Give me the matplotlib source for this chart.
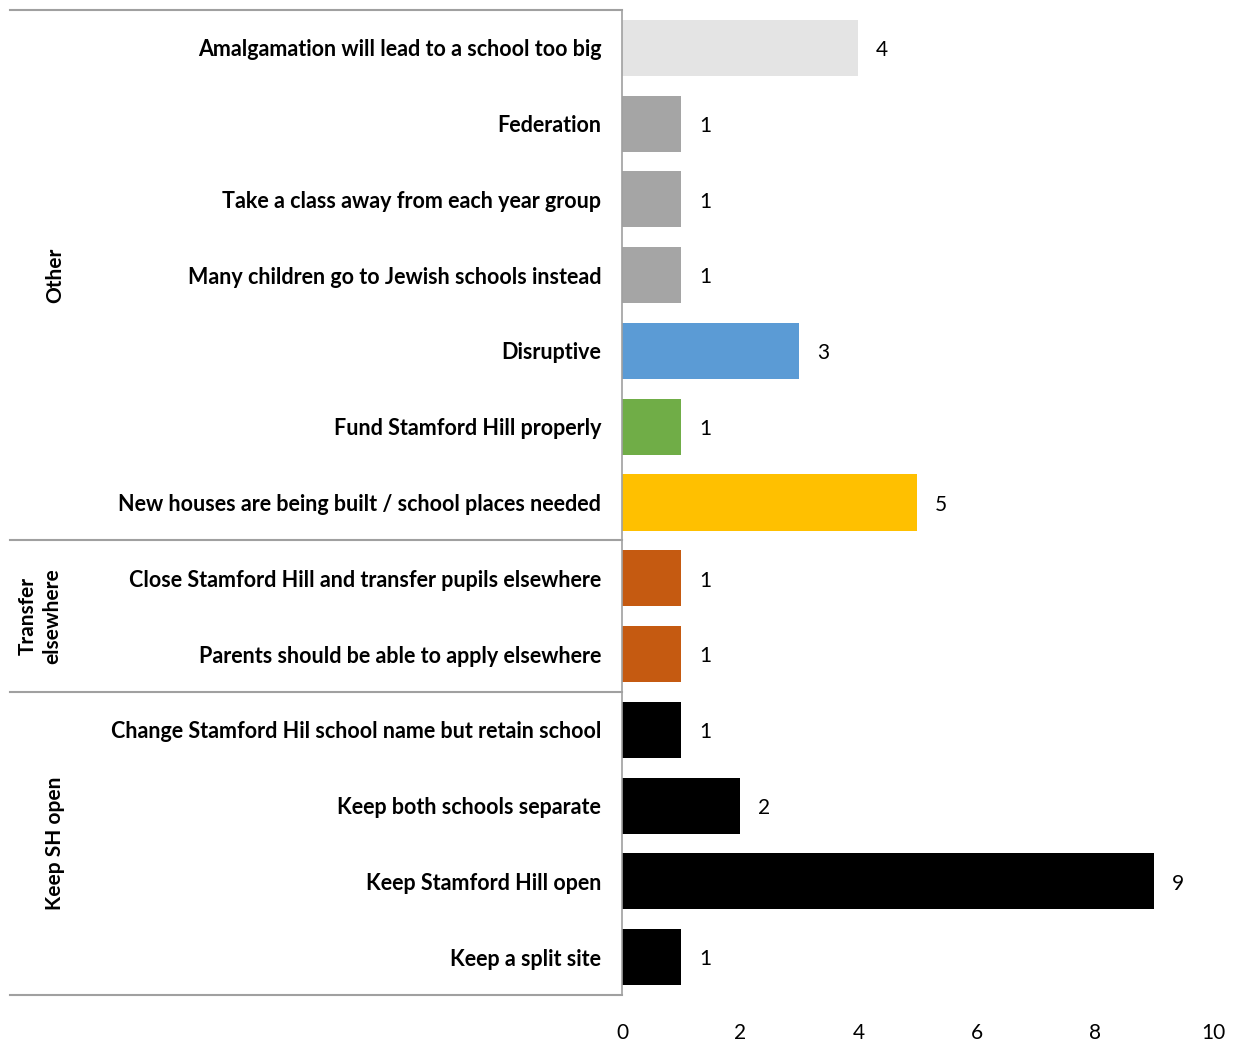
import matplotlib
matplotlib.use('Agg')
import matplotlib.pyplot as plt
from matplotlib import transforms

plt.rcParams['font.family'] = ['Lato', 'DejaVu Sans']

# data (top to bottom)
categories = [
    'Amalgamation will lead to a school too big',
    'Federation',
    'Take a class away from each year group',
    'Many children go to Jewish schools instead',
    'Disruptive',
    'Fund Stamford Hill properly',
    'New houses are being built / school places needed',
    'Close Stamford Hill and transfer pupils elsewhere',
    'Parents should be able to apply elsewhere',
    'Change Stamford Hil school name but retain school',
    'Keep both schools separate',
    'Keep Stamford Hill open',
    'Keep a split site',
]
values = [4, 1, 1, 1, 3, 1, 5, 1, 1, 1, 2, 9, 1]
bar_colors = ['#E4E4E4', '#A5A5A5', '#A5A5A5', '#A5A5A5', '#5B9BD5', '#70AD47',
              '#FFC000', '#C55A11', '#C55A11', '#000000', '#000000', '#000000', '#000000']
groups = ['Other', 'Transfer\nelsewhere', 'Keep SH open']
group_bounds = [(0, 6), (7, 8), (9, 12)]

fig = plt.figure(figsize=(12.38, 10.44), dpi=100)
ax = fig.add_axes([0.5024, 0.0469, 0.4774, 0.9435])

ypos = list(range(len(categories)))
ax.barh(ypos, values, height=0.74, color=bar_colors)
for y, v in zip(ypos, values):
    ax.text(v + 0.3, y + 0.03, str(v), va='center', ha='left', fontsize=15)

ax.set_xlim(0, 10)
ax.set_ylim(len(categories) - 0.5, -0.5)
ax.set_xticks([0, 2, 4, 6, 8, 10])
ax.set_yticks(ypos)
ax.set_yticklabels(categories, fontsize=15.5, fontweight='bold')
ax.tick_params(axis='both', length=0)
ax.tick_params(axis='y', pad=15)
ax.tick_params(axis='x', pad=20, labelsize=15)
for s in ['top', 'right', 'bottom']:
    ax.spines[s].set_visible(False)
ax.spines['left'].set_color('#A0A0A0')
ax.spines['left'].set_linewidth(1.2)

# group separators and labels
tr = transforms.blended_transform_factory(fig.transFigure, ax.transData)
x0 = 10 / 1238
x1 = 0.5024
bounds = [-0.5] + [b[1] + 0.5 for b in group_bounds]
for b in bounds:
    ax.plot([x0, x1], [b, b], color='#A0A0A0', lw=1.5, transform=tr, clip_on=False)
for g, (a, b) in zip(groups, group_bounds):
    xg = 55 / 1238 if '\n' not in g else 40 / 1238
    ax.text(xg, (a + b) / 2, g, rotation=90, ha='center', va='center',
            fontsize=15, fontweight='bold', transform=tr, linespacing=1.25)

fig.savefig('out.png', dpi=100)
